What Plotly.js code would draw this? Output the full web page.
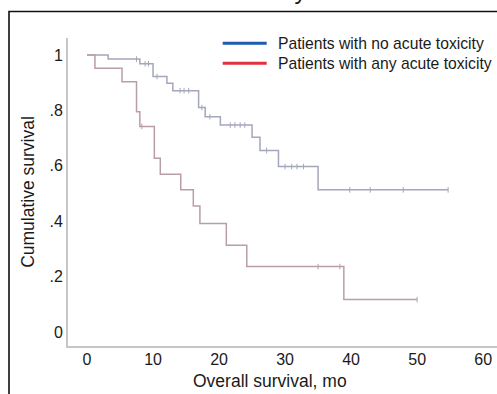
<!DOCTYPE html>
<html>
<head>
<meta charset="utf-8">
<script src="https://cdn.plot.ly/plotly-3.0.1.min.js"></script>
<style>html,body{margin:0;padding:0;background:#fff;}#chart{width:497px;height:394px;}</style>
</head>
<body>
<div id="chart"></div>
<script>
// Kaplan-Meier steps: patients with no acute toxicity
var noToxTime = [0, 3.2, 8.0, 10.0, 12.1, 13.0, 16.9, 17.9, 20.2, 25.0, 26.2, 29.0, 35.0, 54.7];
var noToxSurv = [1.0, 0.985, 0.968, 0.922, 0.898, 0.871, 0.810, 0.777, 0.747, 0.703, 0.655, 0.597, 0.513, 0.513];
var noToxCensTime = [7.5, 8.8, 9.3, 10.6, 14.1, 14.7, 15.4, 17.4, 18.6, 21.7, 22.4, 23.2, 23.9, 27.2, 30.0, 31.0, 31.8, 32.8, 39.8, 42.9, 47.9, 54.7];
var noToxCensSurv = [0.985, 0.968, 0.968, 0.922, 0.871, 0.871, 0.871, 0.810, 0.777, 0.747, 0.747, 0.747, 0.747, 0.655, 0.597, 0.597, 0.597, 0.597, 0.513, 0.513, 0.513, 0.513];

// Kaplan-Meier steps: patients with any acute toxicity
var anyToxTime = [0, 1.2, 5.3, 7.5, 8.0, 10.2, 11.1, 14.2, 16.1, 17.1, 21.1, 24.2, 38.9, 50.0];
var anyToxSurv = [1.0, 0.952, 0.903, 0.795, 0.742, 0.627, 0.569, 0.513, 0.455, 0.392, 0.313, 0.236, 0.117, 0.117];
var anyToxCensTime = [8.3, 35.0, 38.3, 50.0];
var anyToxCensSurv = [0.742, 0.236, 0.236, 0.117];

var seriesNames = ["Patients with no acute toxicity", "Patients with any acute toxicity"];
var xTickVals = [0, 10, 20, 30, 40, 50, 60];
var yTickVals = [0, 0.2, 0.4, 0.6, 0.8, 1];
var yTickText = ["0", ".2", ".4", ".6", ".8", "1"];

var noToxColor = "#a4a7ba";
var anyToxColor = "#b99ea8";
var legendColors = ["#1f5cae", "#e0323c"];

var FONT = "Liberation Sans, Arial, Helvetica, sans-serif";

var traces = [
  {x: noToxTime, y: noToxSurv, type: "scatter", mode: "lines", line: {shape: "hv", color: noToxColor, width: 1.5}, name: seriesNames[0], showlegend: false, hoverinfo: "skip"},
  {x: noToxCensTime, y: noToxCensSurv, type: "scatter", mode: "markers", marker: {symbol: "line-ns", size: 4, line: {width: 1, color: noToxColor}}, showlegend: false, hoverinfo: "skip"},
  {x: anyToxTime, y: anyToxSurv, type: "scatter", mode: "lines", line: {shape: "hv", color: anyToxColor, width: 1.5}, name: seriesNames[1], showlegend: false, hoverinfo: "skip"},
  {x: anyToxCensTime, y: anyToxCensSurv, type: "scatter", mode: "markers", marker: {symbol: "line-ns", size: 4, line: {width: 1, color: anyToxColor}}, showlegend: false, hoverinfo: "skip"}
];

// pixel -> paper helpers (plot area: x 68..497, y 38..346)
function px(p) { return (p - 68) / 429; }
function py(p) { return (346 - p) / 308; }

var layout = {
  width: 497, height: 394,
  margin: {l: 68, r: 0, t: 38, b: 48, pad: 0},
  paper_bgcolor: "#ffffff", plot_bgcolor: "#ffffff",
  font: {family: FONT, color: "#1a1a1a", size: 16},
  showlegend: false,
  xaxis: {
    range: [-2.88, 62.1], tickvals: xTickVals, ticks: "", showgrid: false, zeroline: false,
    showline: true, linecolor: "#c6c6c6", linewidth: 2, tickfont: {size: 16, family: FONT, color: "#1a1a1a"},
    ticklabelstandoff: -2,
    fixedrange: true
  },
  yaxis: {
    range: [-0.0505, 1.061], tickvals: yTickVals, ticktext: yTickText, ticks: "", showgrid: false, zeroline: false,
    showline: true, linecolor: "#c6c6c6", linewidth: 2, tickfont: {size: 16, family: FONT, color: "#1a1a1a"},
    title: {text: "Cumulative survival", font: {size: 17.5, family: FONT, color: "#1a1a1a"}, standoff: 10},
    fixedrange: true
  },
  shapes: [
    {type: "path", xref: "paper", yref: "paper", path: "M" + px(9) + "," + py(420) + " L" + px(9) + "," + py(11.5) + " L" + px(520) + "," + py(11.5), line: {color: "#111111", width: 1.6}},
    {type: "line", xref: "paper", yref: "paper", x0: px(222.7), x1: px(266.7), y0: py(43.3), y1: py(43.3), line: {color: legendColors[0], width: 3}},
    {type: "line", xref: "paper", yref: "paper", x0: px(222.7), x1: px(266.7), y0: py(63.3), y1: py(63.3), line: {color: legendColors[1], width: 3}}
  ],
  annotations: [
    {xref: "paper", yref: "paper", x: px(276), y: py(43.3), xanchor: "left", yanchor: "middle", text: seriesNames[0], showarrow: false, font: {size: 15.7, family: FONT, color: "#1a1a1a"}},
    {xref: "paper", yref: "paper", x: px(276), y: py(63.3), xanchor: "left", yanchor: "middle", text: seriesNames[1], showarrow: false, font: {size: 15.7, family: FONT, color: "#1a1a1a"}},
    {xref: "paper", yref: "paper", x: px(270), y: py(381), xanchor: "center", yanchor: "middle", text: "Overall survival, mo", showarrow: false, font: {size: 17.5, family: FONT, color: "#1a1a1a"}},
    {xref: "paper", yref: "paper", x: px(163), y: py(-9), xanchor: "left", yanchor: "middle", text: "Acute toxicity", showarrow: false, font: {size: 24, family: FONT, color: "#1a1a1a"}},
    {xref: "paper", yref: "paper", x: px(40), y: py(-9), xanchor: "left", yanchor: "middle", text: "<b>A</b>", showarrow: false, font: {size: 24, family: FONT, color: "#2a7fd4"}}
  ]
};

Plotly.newPlot("chart", traces, layout, {displayModeBar: false, staticPlot: true});
</script>
</body>
</html>
